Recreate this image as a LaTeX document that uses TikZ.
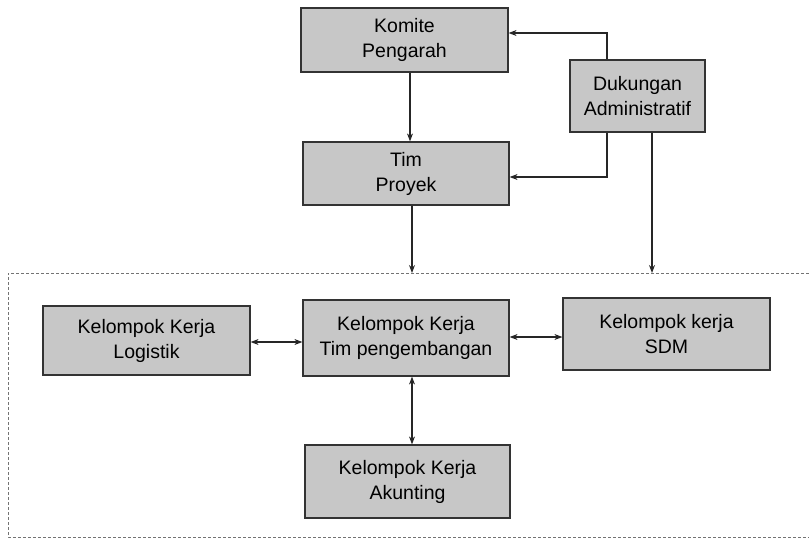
\documentclass[tikz,border=0pt]{standalone}
\usepackage{fontspec}
\setmainfont{Liberation Sans}
\usetikzlibrary{arrows.meta}
\begin{document}
\begin{tikzpicture}[x=1pt,y=-1pt,
  unit/.style={draw=black!80, line width=1.2pt, fill=black!22, align=center,
    font=\fontsize{19.5}{25}\selectfont, inner sep=0pt},
  arr/.style={draw=black!85, line width=1.1pt, -{Stealth[length=8pt,width=6pt]}},
  arrboth/.style={draw=black!85, line width=1.1pt, {Stealth[length=8pt,width=6pt]}-{Stealth[length=8pt,width=6pt]}},
  groupline/.style={draw=black!55, line width=0.9pt, dash pattern=on 3pt off 2pt}]
\useasboundingbox (0,0) rectangle (809,547);

% upper management units
\node[unit, minimum width=207pt, minimum height=64pt] (komite) at (404.5,40) {Komite\\Pengarah};
\node[unit, minimum width=135pt, minimum height=72pt] (dukungan) at (637.5,96) {Dukungan\\Administratif};
\node[unit, minimum width=206pt, minimum height=63pt] (tim) at (406,173.5) {Tim\\Proyek};

% working groups
\node[unit, minimum width=207pt, minimum height=69pt] (logistik) at (146.5,340.5) {Kelompok Kerja\\Logistik};
\node[unit, minimum width=206pt, minimum height=76pt] (peng) at (406,338) {Kelompok Kerja\\Tim pengembangan};
\node[unit, minimum width=207pt, minimum height=72pt] (sdm) at (666.5,334) {Kelompok kerja\\SDM};
\node[unit, minimum width=205pt, minimum height=73pt] (akunting) at (407.5,481.5) {Kelompok Kerja\\Akunting};

% dashed frame around the working groups (open on the right)
\coordinate (gtr) at (809,273);
\coordinate (gtl) at (8,273);
\coordinate (gbl) at (8,537);
\coordinate (gbr) at (809,537);
\draw[groupline] (gtr) -- (gtl) -- (gbl) -- (gbr);

% reference columns for the connectors
\coordinate (c1) at (410,0);
\coordinate (c2) at (412,0);
\coordinate (d1) at (607,0);
\coordinate (d2) at (652,0);

% top part
\draw[arr] (komite.south -| c1) -- (tim.north -| c1);
\draw[arr] (dukungan.north -| d1) |- (komite.east |- 0,33);
\draw[arr] (dukungan.south -| d1) |- (tim.east |- 0,177);
\draw[arr] (tim.south -| c2) -- (gtl -| c2);
\draw[arr] (dukungan.south -| d2) -- (gtl -| d2);

% links between the working groups
\draw[arrboth] (logistik.east |- 0,342) -- (peng.west |- 0,342);
\draw[arrboth] (peng.east |- 0,337) -- (sdm.west |- 0,337);
\draw[arrboth] (peng.south -| c2) -- (akunting.north -| c2);
\end{tikzpicture}
\end{document}
